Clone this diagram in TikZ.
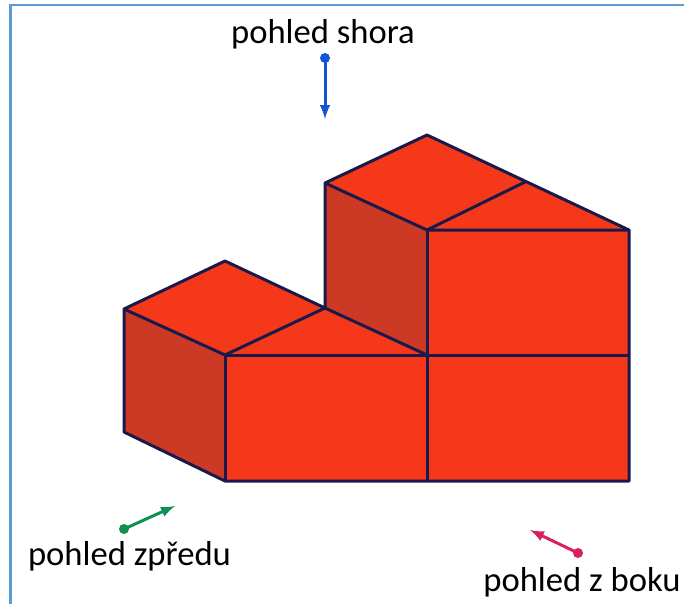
\documentclass[tikz,border=0pt]{standalone}
\usepackage{fontspec}
\setmainfont{Carlito}
\usepackage{xcolor}
\usetikzlibrary{positioning}
\definecolor{framec}{HTML}{5B9BD5}
\definecolor{topred}{HTML}{F5381A}
\definecolor{sidered}{HTML}{CC3A26}
\definecolor{edgec}{HTML}{1A1A4A}
\definecolor{shoraC}{HTML}{1155D0}
\definecolor{zpreduC}{HTML}{109050}
\definecolor{bokuC}{HTML}{D8205A}
\tikzset{
	edge/.style={draw=edgec,line width=0.06cm,line join=round},
	viewlabel/.style={font=\fontsize{19.7}{24}\selectfont,inner sep=0pt},
	viewarrow/.style={-latex,line width=0.06cm}
}
\begin{document}
\begin{tikzpicture}[transform shape,scale=1]
		\useasboundingbox (0,0) rectangle (13.68,12.08);
		% frame, left and top only
		\draw[framec,line width=0.05cm] (0.21,0) -- (0.21,11.98) -- (13.68,11.98);
		% upper block
		\fill[sidered] (6.5,8.42)--(8.54,7.48)--(8.54,4.98)--(6.5,5.92)--cycle;
		\fill[topred] (6.5,8.42)--(8.54,9.38)--(12.58,7.48)--(8.54,7.48)--cycle;
		% lower block
		\fill[sidered] (2.48,5.9)--(4.5,4.98)--(4.5,2.46)--(2.48,3.44)--cycle;
		\fill[topred] (2.48,5.9)--(4.5,6.86)--(6.5,5.92)--(8.54,4.98)--(4.5,4.98)--cycle;
		\fill[topred] (4.5,4.98)--(8.54,4.98)--(8.54,7.48)--(12.58,7.48)--(12.58,2.46)--(4.5,2.46)--cycle;
		% edges
		\draw[edge] (2.48,3.44)--(2.48,5.9)--(4.5,6.86)--(6.5,5.92)--(6.5,8.42)--(8.54,9.38)--(12.58,7.48)--(12.58,2.46)--(4.5,2.46)--cycle;
		\draw[edge] (2.48,5.9)--(4.5,4.98)--(6.5,5.92)--(8.54,4.98);
		\draw[edge] (4.5,2.46)--(4.5,4.98)--(12.58,4.98);
		\draw[edge] (8.54,2.46)--(8.54,7.48);
		\draw[edge] (6.5,8.42)--(8.54,7.48)--(12.58,7.48);
		\draw[edge] (8.54,7.48)--(10.5,8.44);
		% views
		\node[viewlabel] (shora) at (6.46,11.39) {pohled shora};
		\node[viewlabel] (zpredu) at (2.59,0.95) {pohled zpředu};
		\node[viewlabel] (boku) at (11.64,0.44) {pohled z boku};
		\fill[shoraC] (6.5,10.92) circle (0.1) coordinate (shoraS);
		\coordinate (shoraE) at (6.5,9.7);
		\draw[viewarrow,shoraC] (shoraS) -- (shoraE);
		\fill[zpreduC] (2.48,1.5) circle (0.1) coordinate (zpreduS);
		\coordinate (zpreduE) at (3.5,1.96);
		\draw[viewarrow,zpreduC] (zpreduS) -- (zpreduE);
		\fill[bokuC] (11.56,1.02) circle (0.1) coordinate (bokuS);
		\coordinate (bokuE) at (10.6,1.48);
		\draw[viewarrow,bokuC] (bokuS) -- (bokuE);
	\end{tikzpicture}
\end{document}
